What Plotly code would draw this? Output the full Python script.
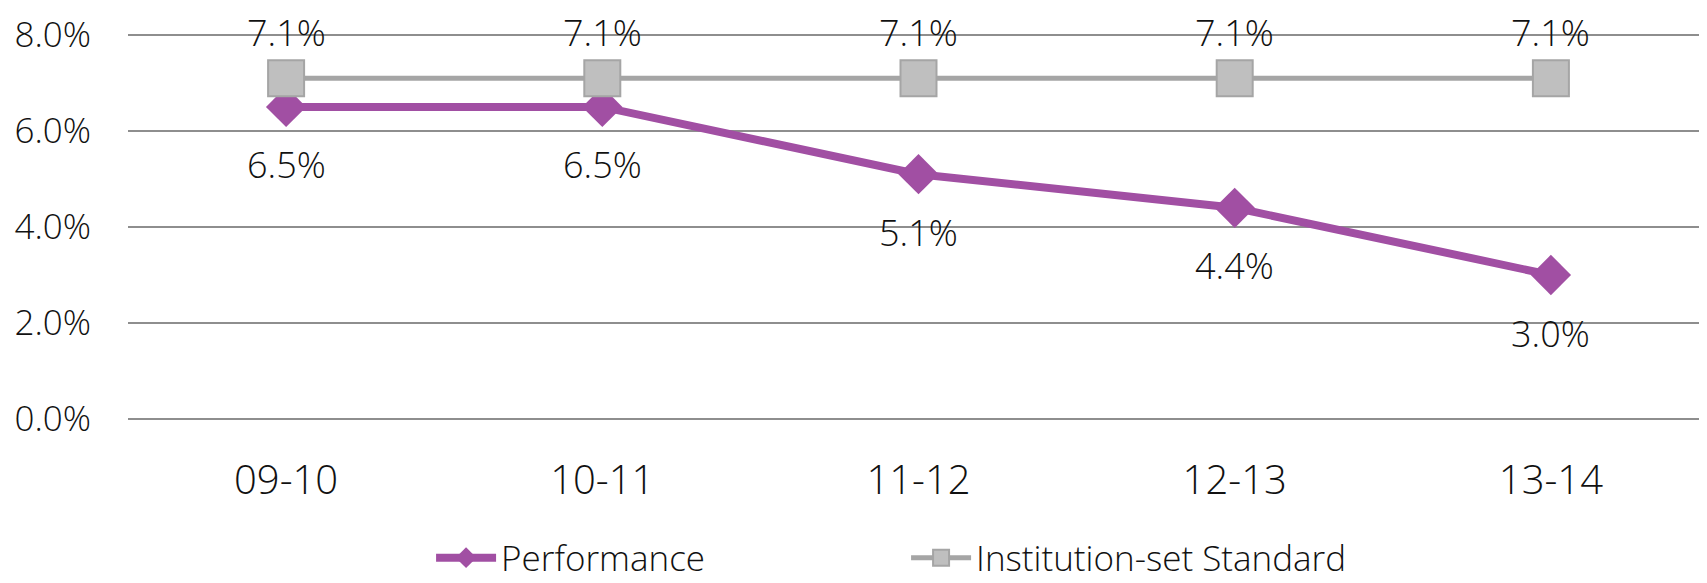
import plotly.graph_objects as go

categories = ["09-10", "10-11", "11-12", "12-13", "13-14"]
performance = [6.5, 6.5, 5.1, 4.4, 3.0]
standard = [7.1, 7.1, 7.1, 7.1, 7.1]
y_ticks = [0, 2, 4, 6, 8]
y_tick_labels = ["0.0%", "2.0%", "4.0%", "6.0%", "8.0%"]

FONT = "Open Sans"
PURPLE = "#A14FA3"
GREY_LINE = "#A5A5A5"
GREY_FILL = "#BFBFBF"
TXT = "#111111"

fig = go.Figure()
fig.add_trace(go.Scatter(
    x=categories, y=performance, name="Performance",
    mode="lines+markers",
    line=dict(color=PURPLE, width=8),
    marker=dict(symbol="diamond", size=31, color=PURPLE),
    cliponaxis=False,
))
fig.add_trace(go.Scatter(
    x=categories, y=standard, name="Institution-set Standard",
    mode="lines+markers",
    line=dict(color=GREY_LINE, width=5),
    marker=dict(symbol="square", size=36, color=GREY_FILL,
                line=dict(color=GREY_LINE, width=2)),
    cliponaxis=False,
))

label_font = dict(family=FONT, size=36, color=TXT, weight=300)
for c, v in zip(categories, performance):
    fig.add_annotation(x=c, y=v, text=f"{v:.1f}%", showarrow=False,
                       yanchor="middle", yshift=-58, font=label_font)
for c, v in zip(categories, standard):
    fig.add_annotation(x=c, y=v, text=f"{v:.1f}%", showarrow=False,
                       yanchor="middle", yshift=46, font=label_font)

fig.update_layout(
    width=1707, height=583,
    margin=dict(l=120, r=6, t=25, b=170, autoexpand=False),
    paper_bgcolor="white", plot_bgcolor="white",
    font=dict(family=FONT, color=TXT, weight=300),
    showlegend=True,
    legend=dict(
        orientation="h", x=0.1917, xanchor="left", y=-0.353, yanchor="middle",
        font=dict(family=FONT, size=35, color=TXT, weight=300),
        entrywidth=400, entrywidthmode="pixels",
        itemwidth=60, traceorder="normal",
    ),
    xaxis=dict(
        type="category", range=[-0.5, 4.5], automargin=False,
        showgrid=False, zeroline=False, showline=False,
        ticks="", tickfont=dict(family=FONT, size=40, color=TXT, weight=300),
        ticklabelstandoff=32,
    ),
    yaxis=dict(
        range=[-0.04, 8.04], tickvals=y_ticks, ticktext=y_tick_labels,
        automargin=False,
        showgrid=True, gridcolor="#8E8E8E", gridwidth=2,
        zeroline=False, showline=False, ticks="",
        tickfont=dict(family=FONT, size=35, color=TXT, weight=300),
        ticklabelstandoff=36,
    ),
)

fig.write_html("out.html")
